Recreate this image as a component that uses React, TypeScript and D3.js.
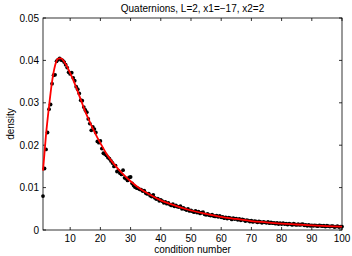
import * as d3 from "d3";

// histogram bin centres 1..100 step 0.5
const binX = d3.range(1, 100.01, 0.5);

// measured densities (dots)
const density = [
  0.0080, 0.0145, 0.0190, 0.0230, 0.0285, 0.0296, 0.0345, 0.0365, 0.0366, 0.0398,
  0.0402, 0.0405, 0.0401, 0.0400, 0.0396, 0.0390, 0.0383, 0.0372, 0.0368, 0.0371,
  0.0359, 0.0352, 0.0338, 0.0332, 0.0322, 0.0306, 0.0305, 0.0290, 0.0283, 0.0278,
  0.0262, 0.0251, 0.0235, 0.0243, 0.0238, 0.0230, 0.0209, 0.0206, 0.0210, 0.0192,
  0.0181, 0.0179, 0.0176, 0.0171, 0.0168, 0.0163, 0.0158, 0.0150, 0.0152, 0.0138,
  0.0140, 0.0134, 0.0131, 0.0141, 0.0123, 0.0121, 0.0117, 0.0124, 0.0125, 0.0110,
  0.0105, 0.0101, 0.0099, 0.0098, 0.0096, 0.0095, 0.0092, 0.0093, 0.0087, 0.0085,
  0.0086, 0.0081, 0.0079, 0.0083, 0.0076, 0.0073, 0.0074, 0.0069, 0.0071, 0.0068,
  0.0064, 0.0066, 0.0062, 0.0064, 0.0060, 0.0058, 0.0061, 0.0056, 0.0058, 0.0055,
  0.0054, 0.0056, 0.0050, 0.0052, 0.0049, 0.0047, 0.0050, 0.0045, 0.0046, 0.0044,
  0.0042, 0.0045, 0.0041, 0.0043, 0.0039, 0.0041, 0.0042, 0.0037, 0.0036, 0.0038,
  0.0035, 0.0034, 0.0036, 0.0033, 0.0032, 0.0034, 0.0031, 0.0033, 0.0030, 0.0031,
  0.0028, 0.0030, 0.0027, 0.0029, 0.0028, 0.0025, 0.0028, 0.0026, 0.0027, 0.0024,
  0.0026, 0.0023, 0.0025, 0.0024, 0.0021, 0.0023, 0.0022, 0.0020, 0.0022, 0.0019,
  0.0021, 0.0020, 0.0018, 0.0020, 0.0019, 0.0017, 0.0019, 0.0018, 0.0017, 0.0019,
  0.0016, 0.0018, 0.0016, 0.0017, 0.0015, 0.0017, 0.0014, 0.0016, 0.0014, 0.0016,
  0.0014, 0.0015, 0.0013, 0.0015, 0.0014, 0.0012, 0.0015, 0.0013, 0.0012, 0.0014,
  0.0012, 0.0013, 0.0014, 0.0011, 0.0012, 0.0010, 0.0012, 0.0010, 0.0011, 0.0010,
  0.0011, 0.0010, 0.0009, 0.0011, 0.0010, 0.0009, 0.0010, 0.0008, 0.0010, 0.0009,
  0.0008, 0.0009, 0.0009, 0.0007, 0.0008, 0.0009, 0.0007, 0.0008, 0.0008,
];

// fitted density (red curve)
const fitX = [1, 2, 3, 4, 5, 6, 7, 8, 9, 10, 11, 12, 13, 14, 15, 16, 17, 18, 19, 20,
  22, 24, 26, 28, 30, 33, 36, 40, 45, 50, 55, 60, 65, 70, 75, 80, 85, 90, 95, 100];
const fitY = [0.0140, 0.0225, 0.0292, 0.0350, 0.0388, 0.0404, 0.0405, 0.0397, 0.0385, 0.0370,
  0.0354, 0.0336, 0.0317, 0.0298, 0.0279, 0.0263, 0.0247, 0.0232, 0.0218, 0.0205,
  0.0180, 0.0160, 0.0143, 0.0128, 0.0115, 0.0098, 0.0085, 0.0070, 0.0057, 0.0046,
  0.0038, 0.0031, 0.0026, 0.0021, 0.0018, 0.0015, 0.0013, 0.0011, 0.0009, 0.0008];

const xTicks = [10, 20, 30, 40, 50, 60, 70, 80, 90, 100];
const yTicks = [0, 0.01, 0.02, 0.03, 0.04, 0.05];

const W = 352;
const H = 256;
const left = 43;
const right = 342;
const top = 18;
const bottom = 230;
const font = "'Liberation Sans', Arial, sans-serif";

export default function App() {
  const x = d3.scaleLinear().domain([1, 100]).range([left, right]);
  const y = d3.scaleLinear().domain([0, 0.05]).range([bottom, top]);

  const line = d3
    .line<number>()
    .x((_, i) => x(fitX[i]))
    .y((d) => y(d))
    .curve(d3.curveMonotoneX);

  const tk = 3;

  return (
    <svg
      width={W}
      height={H}
      style={{ position: "absolute", left: 0, top: 0, background: "#fff" }}
      fontFamily={font}
    >
      <rect x={0} y={0} width={W} height={H} fill="#fff" />

      {/* box */}
      <rect x={left} y={top} width={right - left} height={bottom - top} fill="none" stroke="#000" strokeWidth={0.8} />

      {/* ticks */}
      {xTicks.map((t) => (
        <g key={"xt" + t}>
          <line x1={x(t)} x2={x(t)} y1={bottom} y2={bottom - tk} stroke="#000" strokeWidth={0.8} />
          <line x1={x(t)} x2={x(t)} y1={top} y2={top + tk} stroke="#000" strokeWidth={0.8} />
          <text x={x(t)} y={bottom + 11.5} fontSize={10} textAnchor="middle">{t}</text>
        </g>
      ))}
      {yTicks.map((t) => (
        <g key={"yt" + t}>
          <line x1={left} x2={left + tk} y1={y(t)} y2={y(t)} stroke="#000" strokeWidth={0.8} />
          <line x1={right} x2={right - tk} y1={y(t)} y2={y(t)} stroke="#000" strokeWidth={0.8} />
          <text x={left - 4} y={y(t) + 3.6} fontSize={10} textAnchor="end">{t === 0 ? "0" : t.toFixed(2)}</text>
        </g>
      ))}

      {/* data points */}
      {density.map((d, i) => (
        <circle key={i} cx={x(binX[i])} cy={y(d)} r={1.9} fill="#000" />
      ))}

      {/* fitted curve */}
      <path d={line(fitY) ?? ""} fill="none" stroke="#ff0000" strokeWidth={1.8} />

      {/* labels */}
      <text x={(left + right) / 2} y={12} fontSize={10} textAnchor="middle">
        Quaternions, L=2, x1=−17, x2=2
      </text>
      <text x={(left + right) / 2} y={252.5} fontSize={10} textAnchor="middle">condition number</text>
      <text transform={`translate(14,${(top + bottom) / 2}) rotate(-90)`} fontSize={10} textAnchor="middle">density</text>
    </svg>
  );
}
